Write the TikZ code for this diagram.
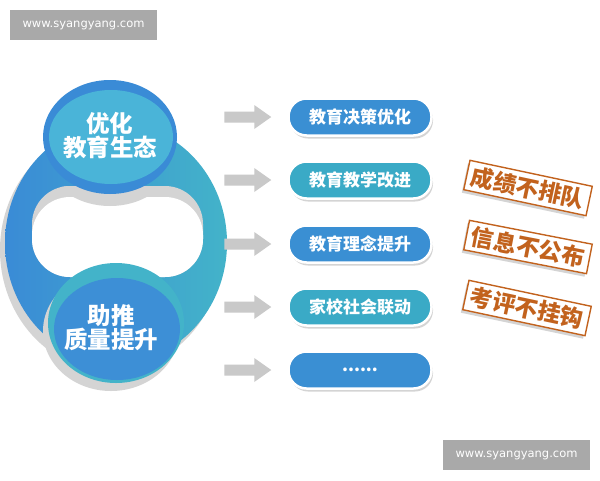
\documentclass[tikz,border=0pt]{standalone}
\usepackage{fontspec}
\newfontfamily\cjk{Noto Sans CJK SC}
\newfontfamily\wmfont{DejaVu Sans}
\usetikzlibrary{calc,shadows}
\definecolor{ringblue}{HTML}{3A8BD6}
\definecolor{ringteal}{HTML}{43B3C9}
\definecolor{discblue}{HTML}{3D8FD6}
\definecolor{discteal}{HTML}{4AB4D8}
\definecolor{pillblue}{HTML}{3A8FD3}
\definecolor{pillteal}{HTML}{3AAAC6}
\definecolor{shadowgray}{HTML}{D4D4D4}
\definecolor{arrowgray}{HTML}{C9C9C9}
\definecolor{stampbrown}{HTML}{C2621D}
\definecolor{markgray}{HTML}{A9A9A9}
\newcommand{\moredots}{......}
\tikzset{
    pill/.style={draw=white, line width=2.5pt, rounded corners=18pt, minimum width=143pt,
        minimum height=37pt, text=white, font=\cjk\bfseries\fontsize{17}{19}\selectfont,
        drop shadow={shadow xshift=1.5pt, shadow yshift=-3pt, fill=shadowgray, opacity=1}},
    stamp/.style={draw=stampbrown, line width=1.4pt, fill=white, text=stampbrown,
        font=\cjk\bfseries\fontsize{23}{25}\selectfont, inner xsep=5pt, inner ysep=1pt,
        minimum height=30pt,
        drop shadow={shadow xshift=-2pt, shadow yshift=-3pt, fill=shadowgray, opacity=1}},
    circletext/.style={text=white, align=center, font=\cjk\bfseries\fontsize{23.5}{24}\selectfont},
    wmark/.style={fill=markgray, text=white, font=\wmfont\fontsize{11.5}{13}\selectfont,
        minimum width=147pt, minimum height=30pt}
}
\begin{document}
\begin{tikzpicture}[x=1pt, y=-1pt]
        \useasboundingbox (0,0) rectangle (600,480);
        \fill[white] (0,0) rectangle (600,480);

        % big ring
        \fill[shadowgray] (111,250) ellipse [x radius=111, y radius=121];
        \shade[left color=ringblue, right color=ringteal] (116,243) ellipse [x radius=111, y radius=120];

        % hole, with the shadow of the top circle in it
        \fill[shadowgray, rounded corners=38] (32,186) rectangle (203,277);
        \begin{scope}
            \clip[rounded corners=38] (32,186) rectangle (203,277);
            \fill[white, rounded corners=38] (32,197) rectangle (203,288);
            \fill[shadowgray] (110,149) ellipse [x radius=68, y radius=57];
        \end{scope}

        % top circle
        \fill[ringblue] (110,137) ellipse [x radius=67, y radius=57];
        \fill[discteal] (111,137) ellipse [x radius=62, y radius=47];
        \node[circletext] (top) at (110,136) {优化\\教育生态};

        % bottom circle
        \fill[shadowgray] (111,331) ellipse [x radius=68, y radius=60];
        \fill[ringteal] (116,323) ellipse [x radius=68, y radius=60];
        \fill[discblue] (117,329) ellipse [x radius=63, y radius=51];
        \node[circletext] (bottom) at (111,328) {助推\\质量提升};

        % pills and arrows
        \foreach \y/\c/\t [count=\i] in {117/pillblue/教育决策优化, 180/pillteal/教育教学改进,
                244/pillblue/教育理念提升, 307/pillteal/家校社会联动, 370/pillblue/\moredots}{
            \node[pill, fill=\c] (pill\i) at (360,\y) {\t};
            \fill[arrowgray] ($(pill\i.west)+(-63,-5.5)$) -- ++(30,0) -- ++(0,-6.5)
                -- ++(17,12) -- ++(-17,12) -- ++(0,-6.5) -- ++(-30,0) -- cycle;
        }

        % stamps
        \node[stamp, rotate=-12] (stamp1) at (528,188) {成绩不排队};
        \node[stamp, rotate=-11] (stamp2) at (528,247) {信息不公布};
        \node[stamp, rotate=-12] (stamp3) at (527,308) {考评不挂钩};

        % watermarks
        \node[wmark] (mark1) at (83.5,25) {www.syangyang.com};
        \node[wmark] (mark2) at (516.5,455) {www.syangyang.com};
    \end{tikzpicture}
\end{document}
